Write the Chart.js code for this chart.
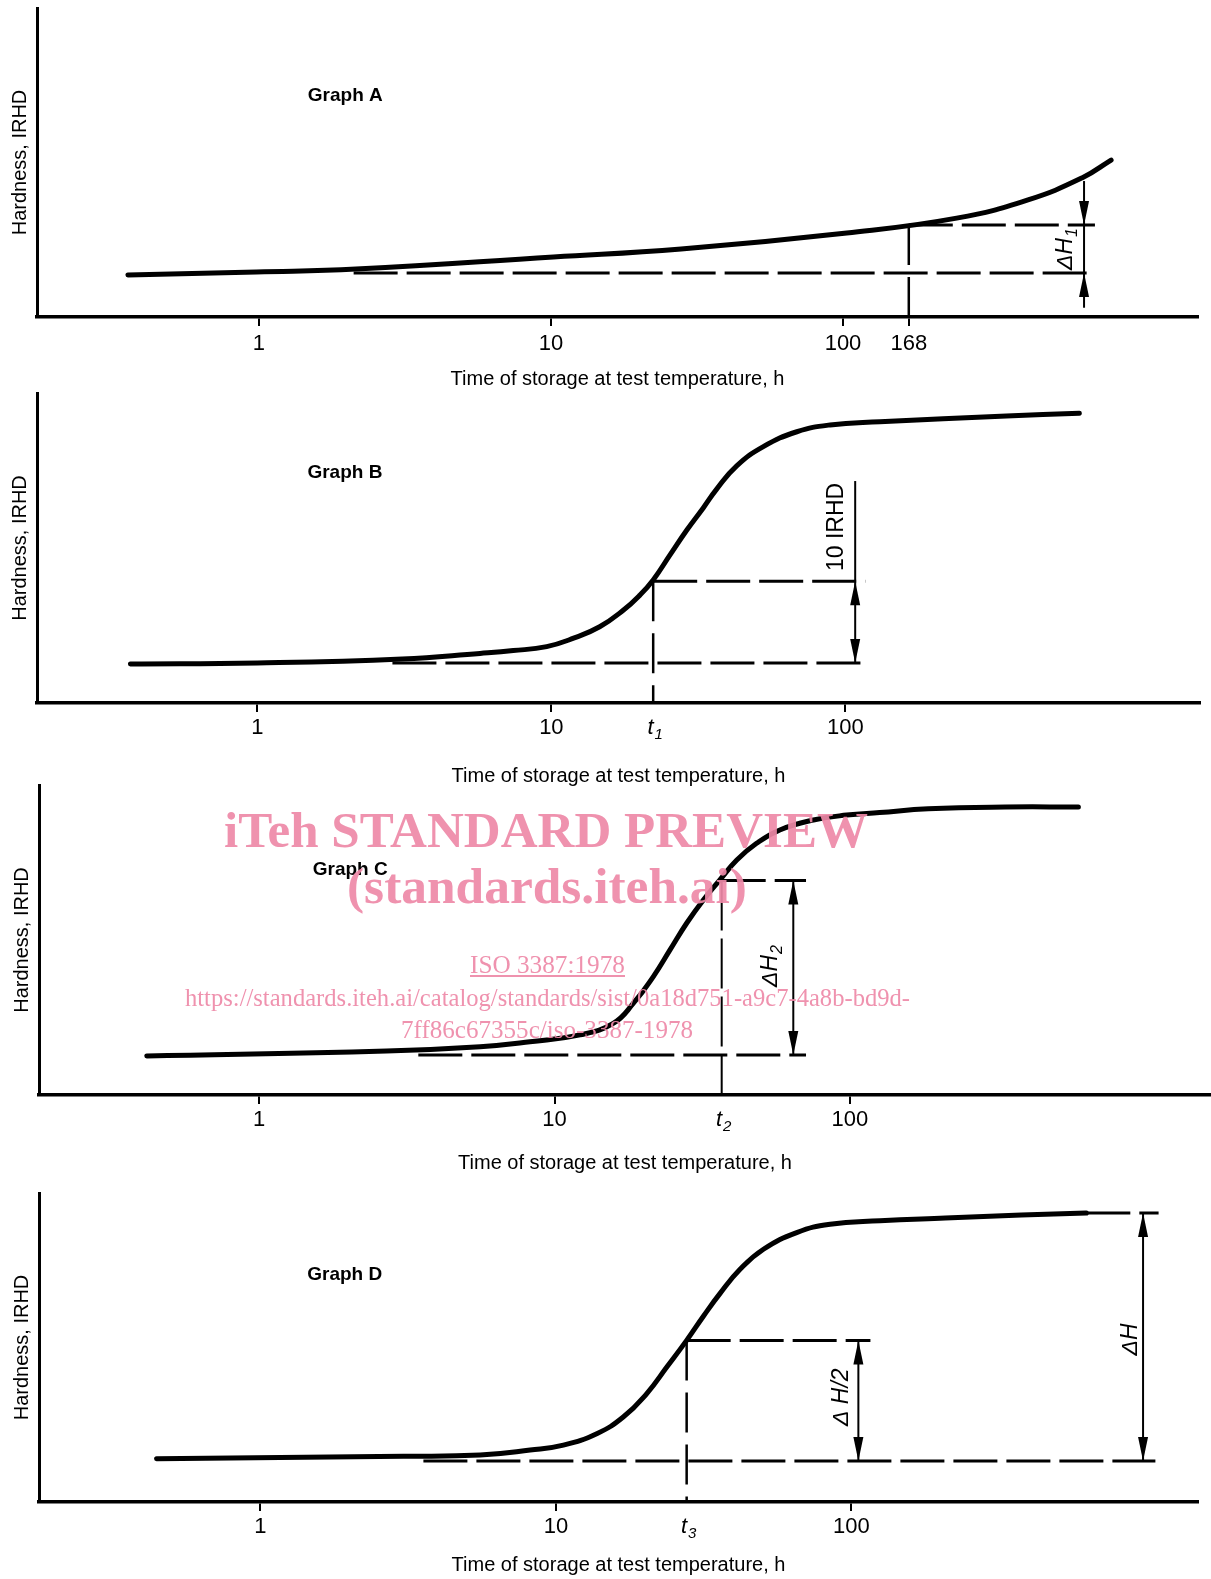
<!DOCTYPE html>
<html>
<head>
<meta charset="utf-8">
<script src="https://cdn.jsdelivr.net/npm/chart.js@4.4.0/dist/chart.umd.min.js"></script>
<style>
  body { margin: 0; background: #fff; width: 1211px; height: 1579px; position: relative; overflow: hidden; }
  canvas { position: absolute; left: 0; }
  .wm { position: absolute; white-space: nowrap; color: #ee89a8; opacity: 0.92; font-family: "Liberation Serif", "Times New Roman", serif; line-height: 1; transform-origin: left top; z-index: 5; }
  .wm.big { font-weight: bold; font-size: 51px; }
  .wm.small { font-size: 25px; }
</style>
</head>
<body>
<canvas id="graph-a" width="1211" height="400" style="top:0px"></canvas>
<canvas id="graph-b" width="1211" height="410" style="top:385px"></canvas>
<canvas id="graph-c" width="1211" height="405" style="top:777px"></canvas>
<canvas id="graph-d" width="1211" height="394" style="top:1185px"></canvas>

<div class="wm big" data-cx="546" data-w="644" style="top:805px">iTeh STANDARD PREVIEW</div>
<div class="wm big" data-cx="547" data-w="400" style="top:861px">(standards.iteh.ai)</div>
<div class="wm small" data-cx="547" data-w="155" style="top:952px;text-decoration:underline">ISO 3387:1978</div>
<div class="wm small" data-cx="547" data-w="725" style="top:985px">https://standards.iteh.ai/catalog/standards/sist/0a18d751-a9c7-4a8b-bd9d-</div>
<div class="wm small" data-cx="547" data-w="292" style="top:1017px">7ff86c67355c/iso-3387-1978</div>

<script>
// Graph A : durcissement continu
const timeA = [0.356, 0.98, 2.15, 10.2, 27.9, 103, 245, 430, 658, 828];
const hardA = [13.6, 14.6, 15.5, 19.4, 22.0, 27.2, 32.0, 37.9, 45.0, 50.8];
const ticksA = [1, 10, 100, 168];
const tickLabelsA = ['1', '10', '100', '168'];
const baseA = 14.2;
const baseSpanA = [2.11, 729];
const tMarkA = 168;
const hardAtMarkA = 29.8;

// Graph B
const timeB = [0.370, 1, 3.11, 5.72, 7.42, 9.64, 11.9, 14.6, 17.6, 20.0, 22.2, 25.3, 28.9, 32.9, 36.5, 42.7, 52.6, 68.4, 88.7, 131, 353, 625];
const hardB = [12.6, 12.9, 14.2, 16.0, 16.9, 18.2, 20.9, 24.6, 30.0, 34.8, 39.7, 47.7, 55.8, 63.0, 69.0, 76.5, 82.7, 87.5, 89.7, 90.7, 92.6, 93.5];
const baseB = 12.9;
const baseSpanB = [2.88, 115];
const t1 = 22.2;
const hardAtT1 = 39.3;

// Graph C
const timeC = [0.417, 2.70, 5.60, 8.26, 12.2, 15.8, 18.5, 21.6, 24.6, 28.0, 31.9, 36.3, 41.4, 48.3, 57.9, 75.2, 97.5, 126, 184, 335, 593];
const hardC = [12.6, 14.2, 15.6, 17.2, 19.4, 23.1, 29.6, 38.2, 46.8, 55.4, 62.9, 69.4, 75.8, 81.2, 85.5, 88.7, 90.3, 91.1, 92.3, 92.9, 92.9];
const baseC = 12.9;
const baseSpanC = [3.46, 71];
const t2 = 36.8;
const hardAtT2 = 69.2;

// Graph D
const timeD = [0.445, 3.05, 5.54, 8.18, 10.6, 13.8, 16.9, 20.3, 23.7, 27.7, 31.6, 36.0, 42.0, 50.4, 65.3, 84.7, 125, 208, 376, 624];
const hardD = [14.0, 14.8, 15.2, 16.8, 18.4, 22.2, 27.5, 35.1, 43.6, 52.3, 60.2, 67.6, 75.3, 81.8, 87.2, 89.9, 91.0, 91.9, 92.9, 93.5];
const baseD = 13.3;
const baseSpanD = [3.56, 1069];
const t3 = 27.7;
const hardAtT3 = 52.3;
const plateauD = 93.5;

const ticksBCD = [1, 10, 100];
const tickLabelsBCD = ['1', '10', '100'];

const FONT = '"Liberation Sans", Arial, Helvetica, sans-serif';
Chart.defaults.font.family = FONT;
Chart.defaults.color = '#000';

const TICK_LEN = 9;

function serie(xs, ys, style) {
    return Object.assign({
        data: xs.map((x, i) => ({ x: x, y: ys[i] })),
        borderColor: '#000',
        pointRadius: 0,
        fill: false
    }, style);
}
const courbe = { borderWidth: 5, tension: 0.45, borderCapStyle: 'round', borderJoinStyle: 'round' };
const tiretH = { borderWidth: 3, borderDash: [44, 9], tension: 0 };
const tiretV = { borderWidth: 2.5, borderDash: [40, 12], tension: 0 };

function fleche(ctx, x, tip, dir) {
    // dir = 1 : pointe vers le bas, -1 : vers le haut
    const len = 24, half = 5;
    ctx.beginPath();
    ctx.moveTo(x, tip);
    ctx.lineTo(x - half, tip - dir * len);
    ctx.lineTo(x + half, tip - dir * len);
    ctx.closePath();
    ctx.fill();
}

function texte(ctx, n, px, py) {
    const style = (n.italic ? 'italic ' : '') + (n.bold ? 'bold ' : '');
    const f1 = style + n.size + 'px ' + FONT;
    const f2 = style + Math.round(n.size * 0.68) + 'px ' + FONT;
    ctx.save();
    ctx.translate(px, py);
    ctx.rotate(n.rot || 0);
    ctx.textBaseline = 'middle';
    ctx.textAlign = 'left';
    ctx.font = f1;
    const w1 = ctx.measureText(n.text).width;
    ctx.font = f2;
    const w2 = n.sub ? ctx.measureText(n.sub).width + 1 : 0;
    const sx = n.align === 'left' ? 0 : -(w1 + w2) / 2;
    ctx.font = f1;
    ctx.fillText(n.text, sx, 0);
    if (n.sub) {
        ctx.font = f2;
        ctx.fillText(n.sub, sx + w1 + 1, n.size * 0.3);
    }
    ctx.restore();
}

function marques(spec) {
    return {
        id: 'marques',
        afterDatasetsDraw(chart) {
            const { ctx, scales: { x, y } } = chart;
            ctx.save();
            ctx.fillStyle = '#000';
            ctx.strokeStyle = '#000';
            (spec.arrows || []).forEach(a => {
                const px = x.getPixelForValue(a.x);
                const pLo = y.getPixelForValue(a.lo);
                const pHi = y.getPixelForValue(a.hi);
                const top = a.top != null ? y.getPixelForValue(a.top) : pHi;
                const bot = a.bottom != null ? y.getPixelForValue(a.bottom) : pLo;
                ctx.lineWidth = 2;
                ctx.beginPath();
                ctx.moveTo(px, top);
                ctx.lineTo(px, bot);
                ctx.stroke();
                if (a.outside) {
                    fleche(ctx, px, pHi, 1);
                    fleche(ctx, px, pLo, -1);
                } else {
                    fleche(ctx, px, pHi, -1);
                    fleche(ctx, px, pLo, 1);
                }
            });
            (spec.notes || []).forEach(n => {
                texte(ctx, n, x.getPixelForValue(n.x), y.getPixelForValue(n.y));
            });
            ctx.restore();
        },
        afterDraw(chart) {
            if (!spec.tLabel) return;
            const { ctx, scales: { x } } = chart;
            const ly = x.top + TICK_LEN + spec.tickPad + 13.2;
            texte(ctx, { text: 't', sub: spec.tLabel.sub, italic: true, size: 22 },
                x.getPixelForValue(spec.tLabel.x) + 2, ly);
        }
    };
}

function graphe(id, cfg) {
    const ctx = document.getElementById(id).getContext('2d');
    return new Chart(ctx, {
        type: 'line',
        data: { datasets: cfg.datasets },
        options: {
            responsive: false,
            devicePixelRatio: 1,
            animation: false,
            events: [],
            layout: { padding: { top: 8, right: cfg.padRight, left: 0, bottom: 0 } },
            plugins: { legend: { display: false }, tooltip: { enabled: false } },
            scales: {
                x: {
                    type: 'logarithmic',
                    bounds: 'data',
                    min: cfg.range[0],
                    max: cfg.range[1],
                    afterBuildTicks: s => { s.ticks = cfg.ticks.map(v => ({ value: v })); },
                    afterFit: s => { s.height = cfg.xHeight; },
                    ticks: {
                        autoSkip: false,
                        maxRotation: 0,
                        padding: cfg.tickPad,
                        font: { size: 22 },
                        callback: (v, i) => cfg.tickLabels[i]
                    },
                    grid: { display: true, drawOnChartArea: false, drawTicks: true, tickLength: TICK_LEN, color: '#000', lineWidth: 2 },
                    border: { display: true, color: '#000', width: 3.5 },
                    title: {
                        display: true,
                        text: 'Time of storage at test temperature, h',
                        font: { size: 20 },
                        padding: { top: 0, bottom: cfg.titleOffset - 12 }
                    }
                },
                y: {
                    type: 'linear',
                    min: 0,
                    max: 100,
                    afterFit: s => { s.width = cfg.yWidth; },
                    ticks: { display: false },
                    grid: { display: false },
                    border: { display: true, color: '#000', width: 3 },
                    title: {
                        display: true,
                        text: 'Hardness, IRHD',
                        font: { size: 20 },
                        padding: { top: cfg.yTitleX - 12, bottom: 0 }
                    }
                }
            }
        },
        plugins: [marques(cfg)]
    });
}

const rot = -Math.PI / 2;

graphe('graph-a', {
    range: [0.1738, 1643], padRight: 13, xHeight: 83, tickPad: 4.8, titleOffset: 20.5, yWidth: 37, yTitleX: 20,
    ticks: ticksA, tickLabels: tickLabelsA,
    datasets: [
        serie(timeA, hardA, courbe),
        serie(baseSpanA, [baseA, baseA], tiretH),
        serie([tMarkA, baseSpanA[1]], [hardAtMarkA, hardAtMarkA], tiretH),
        serie([tMarkA, tMarkA], [hardAtMarkA, 0], tiretV)
    ],
    arrows: [{ x: 669, lo: baseA, hi: hardAtMarkA, outside: true, top: 44, bottom: 3 }],
    notes: [
        { x: 1.47, y: 71.5, text: 'Graph A', bold: true, size: 19, align: 'left' },
        { x: 580, y: 22, text: '\u0394H', sub: '1', italic: true, size: 23, rot: rot }
    ]
});

graphe('graph-b', {
    range: [0.178, 1608], padRight: 11, xHeight: 92, tickPad: 2.8, titleOffset: 19, yWidth: 37, yTitleX: 20,
    ticks: ticksBCD, tickLabels: tickLabelsBCD,
    datasets: [
        serie(timeB, hardB, courbe),
        serie(baseSpanB, [baseB, baseB], tiretH),
        serie([t1, 117], [hardAtT1, hardAtT1], tiretH),
        serie([t1, t1], [hardAtT1, 0], tiretV)
    ],
    arrows: [{ x: 108, lo: baseB, hi: hardAtT1, top: 71.6 }],
    notes: [
        { x: 1.48, y: 74.2, text: 'Graph B', bold: true, size: 19, align: 'left' },
        { x: 93.2, y: 56.8, text: '10 IRHD', size: 23, rot: rot }
    ],
    tLabel: { x: t1, sub: '1' }
});

graphe('graph-c', {
    range: [0.180, 1667], padRight: 0, xHeight: 87, tickPad: 2.8, titleOffset: 18.4, yWidth: 39, yTitleX: 22,
    ticks: ticksBCD, tickLabels: tickLabelsBCD,
    datasets: [
        serie(timeC, hardC, courbe),
        serie(baseSpanC, [baseC, baseC], tiretH),
        serie([t2, baseSpanC[1]], [hardAtT2, hardAtT2], tiretH),
        serie([t2, t2], [hardAtT2, 0], { borderWidth: 2, borderDash: [50, 8], tension: 0 })
    ],
    arrows: [{ x: 64.3, lo: baseC, hi: hardAtT2 }],
    notes: [
        { x: 1.52, y: 72.6, text: 'Graph C', bold: true, size: 19, align: 'left' },
        { x: 54.0, y: 41.6, text: '\u0394H', sub: '2', italic: true, size: 23, rot: rot }
    ],
    tLabel: { x: t2, sub: '2' }
});

graphe('graph-d', {
    range: [0.178, 1490], padRight: 13, xHeight: 77, tickPad: 2.8, titleOffset: 14, yWidth: 39, yTitleX: 22,
    ticks: ticksBCD, tickLabels: tickLabelsBCD,
    datasets: [
        serie(timeD, hardD, courbe),
        serie(baseSpanD, [baseD, baseD], tiretH),
        serie([t3, 116], [hardAtT3, hardAtT3], tiretH),
        serie([timeD[timeD.length - 1], 1096], [plateauD, plateauD], tiretH),
        serie([t3, t3], [hardAtT3, 0], tiretV)
    ],
    arrows: [
        { x: 105.6, lo: baseD, hi: hardAtT3 },
        { x: 971, lo: baseD, hi: plateauD }
    ],
    notes: [
        { x: 1.44, y: 73.5, text: 'Graph D', bold: true, size: 19, align: 'left' },
        { x: 92.5, y: 33.9, text: '\u0394 H/2', italic: true, size: 23, rot: rot },
        { x: 879, y: 52.6, text: '\u0394H', italic: true, size: 23, rot: rot }
    ],
    tLabel: { x: t3, sub: '3' }
});

// filigrane : ajuster la largeur de chaque ligne
document.querySelectorAll('.wm').forEach(el => {
    const w = el.getBoundingClientRect().width;
    const target = +el.dataset.w;
    el.style.transform = 'scaleX(' + (target / w) + ')';
    el.style.left = (+el.dataset.cx - target / 2) + 'px';
});
</script>
</body>
</html>
